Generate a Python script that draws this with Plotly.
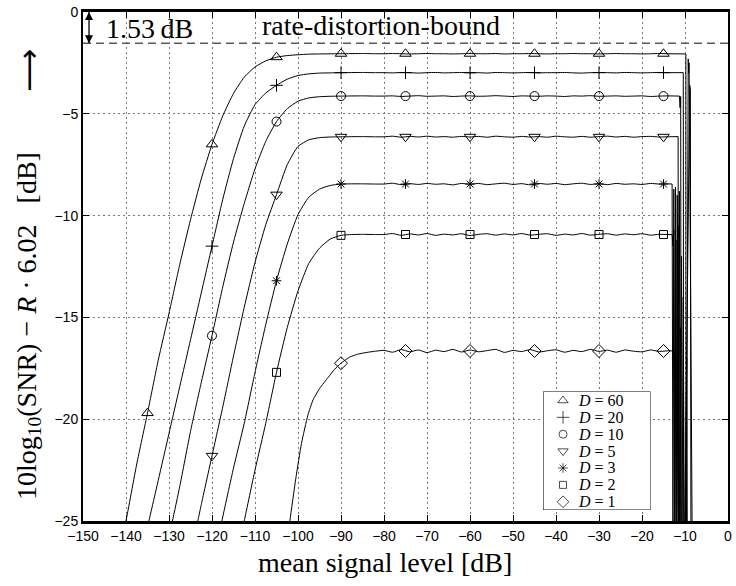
import plotly.graph_objects as go

# ---------------- data ----------------
series_labels = ["D = 60", "D = 20", "D = 10", "D = 5", "D = 3", "D = 2", "D = 1"]
series_symbols = ["triangle-up-open", "cross-thin-open", "circle-open", "triangle-down-open",
                  "asterisk-open", "square-open", "diamond-open"]
marker_sizes = [10, 9, 9, 10, 8, 8, 10]

bound_db = -1.53

plateau_x = [-80, -78, -76, -74, -72, -70, -68, -66, -64, -62, -60, -58, -56, -54, -52, -50, -48,
             -46, -44, -42, -40, -38, -36, -34, -32, -30, -28, -26, -24, -22, -20, -18, -16, -14]

# D = 60
d60_rise_x = [-141, -140, -137.5, -135, -132.5, -130, -127.5, -125, -122.5, -120, -117.5, -115, -112.5,
              -110, -107.5, -105, -102.5, -100, -97.5, -95, -90, -85, -82]
d60_rise_y = [-26.0, -25.0, -22.2, -19.7, -17.1, -14.8, -12.4, -10.2, -8.2, -6.5, -5.1, -4.0, -3.2,
              -2.7, -2.4, -2.22, -2.14, -2.1, -2.07, -2.06, -2.05, -2.04, -2.05]
d60_plateau_y = [-2.05, -2.04, -2.05, -2.06, -2.05, -2.04, -2.05, -2.05, -2.06, -2.05,
                 -2.04, -2.05, -2.05, -2.04, -2.06, -2.05, -2.05, -2.04, -2.05, -2.06,
                 -2.05, -2.05, -2.04, -2.05, -2.05, -2.06, -2.05, -2.04, -2.05, -2.05,
                 -2.06, -2.05, -2.04, -2.05]
d60_tail_x = [-12, -10, -9.8, -9.75, -9.25, -9.15, -9.05, -8.2]
d60_tail_y = [-2.05, -2.05, -2.06, -30, -2.3, -3.0, -2.5, -30]

# D = 20
d20_rise_x = [-136, -135, -132.5, -130, -127.5, -125, -122.5, -120, -117.5, -115, -112.5, -110, -107.5,
              -105, -102.5, -100, -97.5, -95, -92.5, -90, -85, -82]
d20_rise_y = [-26.2, -25.3, -23.0, -20.7, -18.4, -16.1, -13.8, -11.5, -9.2, -7.2, -5.6, -4.55, -3.98,
              -3.6, -3.3, -3.12, -3.04, -3.0, -2.99, -2.98, -2.97, -2.98]
d20_plateau_y = [-2.98, -2.99, -2.97, -2.98, -3.00, -2.98, -2.97, -2.99, -2.98, -2.97,
                 -2.99, -2.98, -3.00, -2.97, -2.98, -2.99, -2.98, -2.97, -2.99, -2.98,
                 -2.98, -2.97, -2.99, -3.00, -2.98, -2.97, -2.98, -2.99, -2.97, -2.98,
                 -2.99, -2.98, -2.97, -2.98]
d20_tail_x = [-12, -10.4, -10.3, -8.9, -8.8, -8.75, -8.6]
d20_tail_y = [-2.98, -2.98, -30, -3.6, -4.8, -3.8, -30]

# D = 10
d10_rise_x = [-130.5, -129.2, -127.5, -125, -122.5, -120, -117.5, -115, -112.5, -110,
              -107.5, -105, -102.5, -100, -97.5, -95, -92.5, -90, -85, -82]
d10_rise_y = [-26.3, -25.0, -23.3, -20.6, -18.2, -15.9, -13.5, -11.3, -9.4, -7.7,
              -6.35, -5.38, -4.75, -4.38, -4.22, -4.16, -4.14, -4.13, -4.12, -4.13]
d10_plateau_y = [-4.13, -4.12, -4.15, -4.13, -4.11, -4.14, -4.13, -4.12, -4.15, -4.13,
                 -4.12, -4.14, -4.13, -4.11, -4.13, -4.15, -4.12, -4.13, -4.14, -4.12,
                 -4.13, -4.15, -4.12, -4.13, -4.11, -4.14, -4.13, -4.12, -4.14, -4.13,
                 -4.12, -4.15, -4.13, -4.12]
d10_tail_x = [-12, -11.3, -11.15, -11.0, -10.9]
d10_tail_y = [-4.13, -4.13, -4.7, -4.15, -30]

# D = 5
d5_rise_x = [-124.5, -123.3, -122.5, -120, -117.5, -115, -112.5, -110, -107.5, -105,
             -102.5, -100, -97.5, -95, -92.5, -90, -85, -82]
d5_rise_y = [-26.2, -25.0, -24.2, -21.8, -19.4, -16.9, -14.5, -12.3, -10.45, -8.97,
             -7.5, -6.6, -6.28, -6.17, -6.14, -6.13, -6.12, -6.13]
d5_plateau_y = [-6.13, -6.10, -6.15, -6.11, -6.14, -6.10, -6.14, -6.12, -6.15, -6.11,
                -6.14, -6.11, -6.15, -6.10, -6.13, -6.15, -6.11, -6.14, -6.12, -6.15,
                -6.10, -6.13, -6.15, -6.11, -6.15, -6.12, -6.10, -6.14, -6.11, -6.15,
                -6.12, -6.11, -6.14, -6.13]
d5_tail_x = [-12, -11.6, -11.5]
d5_tail_y = [-6.13, -6.12, -30]

# D = 3
d3_rise_x = [-119, -117.7, -115, -112.5, -110, -107.5, -105, -102.5, -100, -97.5, -95, -92.5, -90, -85, -82]
d3_rise_y = [-26.4, -25.0, -22.4, -20.2, -17.7, -15.35, -13.2, -11.4, -9.95, -9.1, -8.7, -8.52, -8.45, -8.44, -8.45]
d3_plateau_y = [-8.45, -8.41, -8.48, -8.43, -8.47, -8.42, -8.46, -8.44, -8.49, -8.42,
                -8.46, -8.42, -8.48, -8.44, -8.41, -8.47, -8.43, -8.49, -8.42, -8.46,
                -8.42, -8.48, -8.44, -8.41, -8.47, -8.43, -8.48, -8.42, -8.46, -8.44,
                -8.47, -8.42, -8.45, -8.44]
d3_tail_x = [-13.0, -12.8, -12.6, -12.4, -12.2, -12.0, -11.8, -11.5, -11.3, -11.1]
d3_tail_y = [-8.45, -26, -8.7, -26, -8.6, -27, -9.0, -26, -8.8, -30]

# D = 2
d2_rise_x = [-114, -112.5, -110, -107.5, -105, -102.5, -100, -97.5, -95, -92.5, -90, -87.5, -85, -82]
d2_rise_y = [-26.5, -25.0, -22.5, -20.2, -17.7, -15.5, -13.7, -12.35, -11.6, -11.15, -10.97, -10.93, -10.92, -10.93]
d2_plateau_y = [-10.93, -10.88, -10.97, -10.90, -10.95, -10.88, -10.97, -10.91, -10.95, -10.89,
                -10.98, -10.92, -10.89, -10.96, -10.90, -10.95, -10.88, -10.96, -10.92, -10.89,
                -10.97, -10.91, -10.95, -10.88, -10.96, -10.92, -10.89, -10.96, -10.90, -10.94,
                -10.89, -10.96, -10.92, -10.93]
d2_tail_x = [-13.0, -12.8, -12.6, -12.4, -12.1, -11.9, -11.6, -11.3, -10.8, -10.6]
d2_tail_y = [-10.93, -11.5, -10.7, -27, -11.2, -28, -10.5, -30, -12, -30]

# D = 1
d1_rise_x = [-102.8, -101.9, -100.5, -99.2, -97.7, -96.5, -95, -93, -91.5, -90, -88, -86, -84, -82]
d1_rise_y = [-26.4, -25.0, -22.9, -21.2, -19.8, -19.05, -18.5, -17.95, -17.55, -17.25, -16.95, -16.8, -16.72, -16.66]
d1_plateau_y = [-16.62, -16.71, -16.58, -16.69, -16.60, -16.73, -16.61, -16.68, -16.57, -16.70,
                -16.60, -16.69, -16.63, -16.57, -16.72, -16.62, -16.68, -16.58, -16.70, -16.64,
                -16.59, -16.71, -16.62, -16.68, -16.57, -16.67, -16.61, -16.71, -16.60, -16.66,
                -16.69, -16.60, -16.67, -16.64]
d1_tail_x = [-12.6, -12.4, -12.2, -12.0, -11.7, -11.4, -11.1, -10.8, -10.4, -10.1, -9.6, -9.4]
d1_tail_y = [-16.65, -18, -16.3, -28, -16.8, -29, -15.5, -30, -14, -30, -17, -30]

# marker positions (every 15 dB)
d60_mk_x = [-135, -120, -105, -90, -75, -60, -45, -30, -15]
d60_mk_y = [-19.7, -6.5, -2.22, -2.05, -2.05, -2.05, -2.05, -2.05, -2.05]
d20_mk_x = [-120, -105, -90, -75, -60, -45, -30, -15]
d20_mk_y = [-11.5, -3.6, -2.98, -2.98, -2.98, -2.98, -2.98, -2.98]
d10_mk_x = [-120, -105, -90, -75, -60, -45, -30, -15]
d10_mk_y = [-15.9, -5.38, -4.13, -4.13, -4.13, -4.13, -4.13, -4.13]
d5_mk_x = [-120, -105, -90, -75, -60, -45, -30, -15]
d5_mk_y = [-21.8, -8.97, -6.13, -6.13, -6.13, -6.13, -6.13, -6.13]
d3_mk_x = [-105, -90, -75, -60, -45, -30, -15]
d3_mk_y = [-13.2, -8.45, -8.45, -8.45, -8.45, -8.45, -8.45]
d2_mk_x = [-105, -90, -75, -60, -45, -30, -15]
d2_mk_y = [-17.7, -10.97, -10.93, -10.93, -10.93, -10.93, -10.93]
d1_mk_x = [-90, -75, -60, -45, -30, -15]
d1_mk_y = [-17.25, -16.65, -16.65, -16.65, -16.65, -16.65]

x_tick_step = 10
y_tick_step = 5

# ---------------- figure ----------------
SERIF = "Liberation Serif, Times New Roman, serif"
SANS = "Liberation Sans, Arial, Helvetica, sans-serif"

curves = [
    (d60_rise_x, d60_rise_y, d60_plateau_y, d60_tail_x, d60_tail_y, d60_mk_x, d60_mk_y),
    (d20_rise_x, d20_rise_y, d20_plateau_y, d20_tail_x, d20_tail_y, d20_mk_x, d20_mk_y),
    (d10_rise_x, d10_rise_y, d10_plateau_y, d10_tail_x, d10_tail_y, d10_mk_x, d10_mk_y),
    (d5_rise_x, d5_rise_y, d5_plateau_y, d5_tail_x, d5_tail_y, d5_mk_x, d5_mk_y),
    (d3_rise_x, d3_rise_y, d3_plateau_y, d3_tail_x, d3_tail_y, d3_mk_x, d3_mk_y),
    (d2_rise_x, d2_rise_y, d2_plateau_y, d2_tail_x, d2_tail_y, d2_mk_x, d2_mk_y),
    (d1_rise_x, d1_rise_y, d1_plateau_y, d1_tail_x, d1_tail_y, d1_mk_x, d1_mk_y),
]

fig = go.Figure()

# rate-distortion bound (dashed)
fig.add_trace(go.Scatter(x=[-150, 0], y=[bound_db, bound_db], mode="lines",
                         line=dict(color="#5a5a5a", width=1.5, dash="8px,5px"),
                         showlegend=False, hoverinfo="skip"))

# 1.53 dB gap indicator (double-headed arrow from 0 dB to the bound)
fig.add_trace(go.Scatter(x=[-148.6, -148.6], y=[0, bound_db], mode="lines+markers",
                         line=dict(color="black", width=1.3),
                         marker=dict(symbol=["arrow-up", "arrow-down"], size=8, color="black",
                                     line=dict(width=0)),
                         showlegend=False, hoverinfo="skip", cliponaxis=False))

for (rx, ry, py_, tx, ty, mx, my), lab, sym, ms in zip(curves, series_labels, series_symbols, marker_sizes):
    fig.add_trace(go.Scatter(x=rx + plateau_x, y=ry + py_, mode="lines",
                             line=dict(color="black", width=1, shape="spline", smoothing=0.5),
                             showlegend=False, hoverinfo="skip"))
    fig.add_trace(go.Scatter(x=[plateau_x[-1]] + tx, y=[py_[-1]] + ty, mode="lines",
                             line=dict(color="black", width=1),
                             showlegend=False, hoverinfo="skip"))
    fig.add_trace(go.Scatter(x=mx, y=my, mode="markers", name=lab,
                             marker=dict(symbol=sym, size=ms, color="black",
                                         line=dict(color="black", width=1)),
                             showlegend=False, cliponaxis=False))

L, R, T, B = 83, 4, 10, 65
W, H = 736, 586
pw, ph = W - L - R, H - T - B

def px2paper_x(p):
    return (p - L) / pw

def px2paper_y(p):
    return (H - B - p) / ph

# compact boxed legend drawn on its own small axes (as in the reference)
leg_n = len(series_labels)
fig.add_trace(go.Scatter(
    x=[20] * leg_n, y=list(range(leg_n)),
    xaxis="x2", yaxis="y2", mode="markers",
    marker=dict(symbol=series_symbols, size=[9, 9, 8, 9, 8, 7, 9], color="black",
                line=dict(color="black", width=1)),
    showlegend=False, hoverinfo="skip", cliponaxis=False))

fig.update_layout(
    width=W, height=H, autosize=False,
    margin=dict(l=L, r=R, t=T, b=B, pad=0),
    paper_bgcolor="white", plot_bgcolor="white",
    showlegend=False,
    xaxis=dict(range=[-150, 0], dtick=x_tick_step, tick0=0,
               showgrid=True, gridcolor="#7a7a7a", gridwidth=1, griddash="2px,3px",
               showline=True, linecolor="black", linewidth=3, mirror="ticks",
               ticks="inside", ticklen=6, tickwidth=1, tickcolor="black",
               tickfont=dict(family=SANS, size=14, color="black"),
               zeroline=False, fixedrange=True),
    yaxis=dict(range=[-25, 0], dtick=y_tick_step, tick0=0,
               showgrid=True, gridcolor="#7a7a7a", gridwidth=1, griddash="2px,3px",
               showline=True, linecolor="black", linewidth=2, mirror="ticks",
               ticks="inside", ticklen=6, tickwidth=1, tickcolor="black",
               tickfont=dict(family=SANS, size=14, color="black"),
               zeroline=False, fixedrange=True),
    xaxis2=dict(domain=[px2paper_x(546), px2paper_x(654)], range=[0, 108], visible=False,
                anchor="y2", fixedrange=True),
    yaxis2=dict(domain=[px2paper_y(510), px2paper_y(391)], range=[6.49, -0.53], visible=False,
                anchor="x2", fixedrange=True),
)

# legend box (drawn beneath the legend symbols but above the main grid)
fig.add_shape(type="rect", xref="x2", yref="y2", x0=0, x1=108, y0=6.49, y1=-0.53,
              line=dict(color="black", width=1), fillcolor="white", layer="below")
for i, lab in enumerate(series_labels):
    fig.add_annotation(x=33, y=i, xref="x2", yref="y2", showarrow=False,
                       text="<i>D</i> = " + lab.split("= ")[1], xanchor="left", yanchor="middle",
                       font=dict(family=SERIF, size=16, color="black"))

fig.add_annotation(x=-134.6, y=-0.8, xref="x", yref="y", text="1.53\u2009dB", showarrow=False,
                   font=dict(family=SERIF, size=28, color="black"), xanchor="center", yanchor="middle")
fig.add_annotation(x=-108.8, y=-0.68, xref="x", yref="y", text="rate-distortion-bound", showarrow=False,
                   font=dict(family=SERIF, size=28, color="black"), xanchor="left", yanchor="middle")

# axis titles
fig.add_annotation(x=px2paper_x(387), y=px2paper_y(563), xref="paper", yref="paper",
                   text="mean signal level [dB]", showarrow=False,
                   font=dict(family=SERIF, size=28, color="black"), xanchor="center", yanchor="middle")
ylab = "10log<sub>10</sub>(SNR) \u2212 <i>R</i> \u00b7 6.02" + "\u00a0" * 3 + "[dB]"
fig.add_annotation(x=px2paper_x(28), y=px2paper_y(325), xref="paper", yref="paper",
                   text=ylab, showarrow=False, textangle=-90,
                   font=dict(family=SERIF, size=28, color="black"), xanchor="center", yanchor="middle")
fig.add_annotation(x=px2paper_x(28), y=px2paper_y(69), xref="paper", yref="paper",
                   text="\u27f6", showarrow=False, textangle=-90,
                   font=dict(family="DejaVu Sans", size=30, color="black"), xanchor="center", yanchor="middle")

fig.write_html("out.html")
